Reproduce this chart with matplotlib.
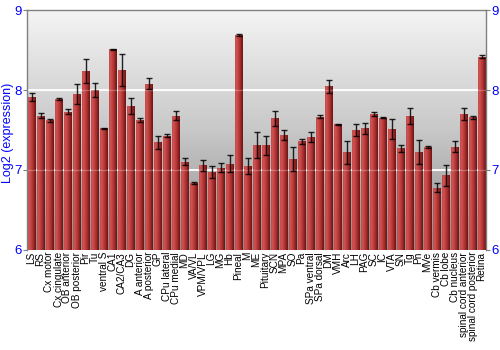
import numpy as np
import matplotlib
matplotlib.use('Agg')
import matplotlib.pyplot as plt
from matplotlib.colors import LinearSegmentedColormap

plt.rcParams['font.family'] = ['Liberation Sans', 'DejaVu Sans']

categories = ["LS", "RS", "Cx motor", "Cx cingulate", "OB anterior", "OB posterior",
              "Pir", "Tu", "ventral S", "CA1", "CA2/CA3", "DG", "A anterior",
              "A posterior", "GP", "CPu lateral", "CPu medial", "MD", "VA/VL",
              "VPM/VPL", "LG", "MG", "Hb", "Pineal", "M", "ME", "Pituitary", "SCN",
              "MPA", "SO", "Pa", "SPa ventral", "SPa dorsal", "DM", "VMH", "Arc",
              "LH", "PAG", "SC", "IC", "VTA", "SN", "Tg", "Pn", "MVe", "Cb vermis",
              "Cb lobe", "Cb nucleus", "spinal cord anterior", "spinal cord posterior",
              "Retina"]
values = [7.915, 7.68, 7.62, 7.89, 7.73, 7.95,
          8.235, 8.00, 7.52, 8.51, 8.25, 7.80, 7.62,
          8.08, 7.345, 7.43, 7.68, 7.105, 6.835,
          7.06, 6.98, 7.03, 7.08, 8.69, 7.05, 7.31, 7.31, 7.645,
          7.44, 7.14, 7.36, 7.41, 7.665, 8.045, 7.57, 7.22,
          7.50, 7.52, 7.695, 7.655, 7.51, 7.27, 7.68, 7.23, 7.285, 6.78,
          6.935, 7.29, 7.70, 7.66,
          8.42]
errors = [0.05, 0.03, 0.015, 0.01, 0.03, 0.12,
          0.15, 0.085, 0.01, 0.01, 0.2, 0.1, 0.025,
          0.07, 0.085, 0.02, 0.06, 0.04, 0.01,
          0.07, 0.075, 0.055, 0.11, 0.01, 0.1, 0.165, 0.12, 0.095,
          0.065, 0.15, 0.03, 0.06, 0.02, 0.08, 0.005, 0.14,
          0.08, 0.07, 0.025, 0.01, 0.125, 0.04, 0.1, 0.15, 0.015, 0.055,
          0.13, 0.07, 0.07, 0.02,
          0.02]

n = len(categories)
x = np.arange(n)
ymin, ymax = 6, 9
width = 0.84

fig = plt.figure(figsize=(5, 3.5), dpi=100)
ax = fig.add_axes([0.054, 0.286, 0.918, 0.685])

# background gradient
bgcmap = LinearSegmentedColormap.from_list('bg', ['#f4f4f4', '#c8c8c8', '#8c8c8c'])
bg = np.linspace(0, 1, 256).reshape(-1, 1)
ax.imshow(bg, cmap=bgcmap, extent=(-0.5, n - 0.5, ymin, ymax), origin='upper',
          aspect='auto', zorder=0, interpolation='bilinear')

for yv in (7, 8):
    ax.axhline(yv, color='white', lw=1.3, zorder=1)

bars = ax.bar(x, values, width=width, color='#b83838', edgecolor='none', zorder=2)
barcmap = LinearSegmentedColormap.from_list(
    'bar', ['#c44a4a', '#cf5656', '#c24040', '#b03434', '#8c2222', '#6a1414'])
grad = np.linspace(0, 1, 64).reshape(1, -1)
for b, xi, v in zip(bars, x, values):
    im = ax.imshow(grad, cmap=barcmap, extent=(xi - width / 2, xi + width / 2, ymin, v),
                   aspect='auto', zorder=2.1, interpolation='bilinear')
    im.set_clip_path(b)

for yv in (7, 8):
    ax.axhline(yv, color='white', lw=1.0, alpha=0.25, zorder=2.5)

ax.errorbar(x, values, yerr=errors, fmt='none', ecolor='black', elinewidth=1.0,
            capsize=2, capthick=1.0, alpha=0.85, zorder=3)

ax.set_xlim(-0.5, n - 0.5)
ax.set_ylim(ymin, ymax)
ax.set_yticks([6, 7, 8, 9])
ax.set_xticks(x)
ax.set_xticklabels(categories, rotation=90, fontsize=7.2)
ax.tick_params(axis='x', length=0, pad=1.5)
ax.tick_params(axis='y', which='both', left=True, right=True, labelleft=True,
               labelright=True, color='#808080', labelcolor='blue', labelsize=9.5,
               length=3, pad=1)
for s in ax.spines.values():
    s.set_color('#808080')
    s.set_linewidth(1.0)
ax.spines['bottom'].set_visible(False)
fig.text(0.016, 0.62, 'Log2 (expression)', color='blue', fontsize=9,
         rotation=90, ha='center', va='center')

fig.savefig('out.png', dpi=100)
